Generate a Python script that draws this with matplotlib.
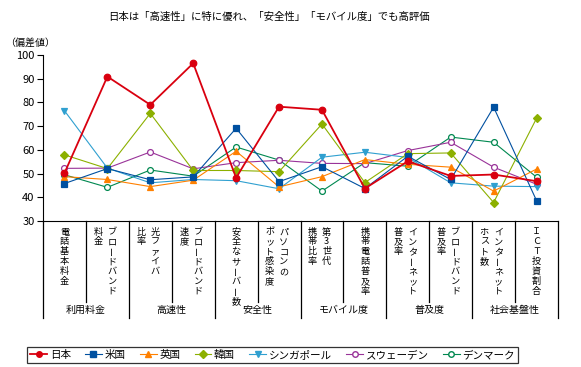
import matplotlib
matplotlib.use('Agg')
import matplotlib.pyplot as plt
from matplotlib.lines import Line2D

plt.rcParams['font.family'] = ['Noto Sans CJK JP', 'DejaVu Sans']

title = '日本は「高速性」に特に優れ、「安全性」「モバイル度」でも高評価'

# category labels, columns written right to left
cat_labels = [['電話基本料金'], ['ブロードバンド', '料金'], ['光ファイバ', '比率'],
              ['ブロードバンド', '速度'], ['安全なサーバー数'], ['パソコンの', 'ボット感染度'],
              ['第3世代', '携帯比率'], ['携帯電話普及率'], ['インターネット', '普及率'],
              ['ブロードバンド', '普及率'], ['インターネット', 'ホスト数'], ['ＩＣＴ投資割合']]
groups = ['利用料金', '高速性', '安全性', 'モバイル度', '普及度', '社会基盤性']

japan = [50.2, 90.9, 79.0, 96.5, 48.2, 78.2, 76.9, 43.7, 55.2, 49.0, 49.6, 46.8]
usa = [45.8, 52.1, 47.4, 48.6, 69.1, 46.6, 52.9, 43.7, 57.3, 47.5, 78.0, 38.6]
uk = [48.7, 47.5, 44.5, 47.2, 59.4, 44.4, 48.7, 55.9, 53.9, 52.7, 42.6, 51.9]
korea = [57.9, 52.1, 75.4, 51.3, 51.3, 50.8, 70.9, 46.2, 58.4, 58.7, 37.8, 73.3]
singapore = [76.5, 52.3, 46.1, 47.5, 47.0, 43.6, 56.9, 59.0, 56.8, 46.1, 44.7, 44.5]
sweden = [52.2, 52.3, 59.1, 52.0, 54.6, 55.6, 54.3, 54.2, 59.7, 63.2, 52.7, 45.5]
denmark = [49.5, 44.2, 51.5, 48.9, 61.2, 55.7, 42.6, 54.6, 53.1, 65.4, 63.2, 48.5]

names = ['日本', '米国', '英国', '韓国', 'シンガポール', 'スウェーデン', 'デンマーク']
series = [japan, usa, uk, korea, singapore, sweden, denmark]
colors = ['#D9000F', '#0050A0', '#FF8000', '#8CB000', '#30A0D0', '#993399', '#008850']
markers = ['o', 's', '^', 'D', 'v', 'o', 'o']
filled = [True, True, True, True, True, False, False]

W, H = 581, 367
fig = plt.figure(figsize=(W / 100, H / 100), dpi=100)
L, R, T, B = 43, 558, 55, 221
ax = fig.add_axes([L / W, 1 - B / H, (R - L) / W, (B - T) / H])

x = list(range(len(cat_labels)))
order = [6, 5, 4, 3, 2, 1, 0]
for i in order:
    lw = 1.3 if i == 0 else 0.8
    ms = 4.7 if i in (0, 1) else 4.2
    ax.plot(x, series[i], color=colors[i], lw=lw, marker=markers[i], ms=ms,
            mfc=colors[i] if filled[i] else 'white', mec=colors[i], mew=0.9,
            zorder=10 - i, clip_on=False)

ax.set_xlim(-0.5, 11.5)
ax.set_ylim(30, 100)
ax.set_yticks(range(30, 101, 10))
ax.tick_params(axis='y', direction='out', length=4, labelsize=8, pad=2)
ax.set_xticks([])
ax.spines['top'].set_visible(False)
ax.spines['right'].set_visible(False)


def fy(p):
    # pixel row (from top) -> axes fraction
    return (B - p) / (B - T)


tr = ax.get_xaxis_transform()
# separators
for i in range(13):
    bottom = 318 if i % 2 == 0 else 302
    ax.plot([i - 0.5, i - 0.5], [0, fy(bottom)], color='black', lw=0.9,
            transform=tr, clip_on=False)

# vertical category labels
step = 9.9
for i, cols in enumerate(cat_labels):
    n = len(cols)
    offs = [0] if n == 1 else [0.11, -0.22]
    for c, text in enumerate(cols):
        for k, ch in enumerate(text):
            ax.text(i + offs[c], fy(232 + k * step), ch, transform=tr,
                    ha='center', va='center', fontsize=6.6,
                    rotation=90 if ch == 'ー' else 0)

for g, name in enumerate(groups):
    ax.text(2 * g + 0.5, fy(310), name, transform=tr, ha='center', va='center',
            fontsize=7.2)

fig.text(269 / W, 1 - 17 / H, title, ha='center', va='center', fontsize=7.5)
fig.text(5 / W, 1 - 43 / H, '（偏差値）', ha='left', va='center', fontsize=7.2)

handles = [Line2D([], [], color=colors[i], lw=1.3 if i == 0 else 0.8,
                  marker=markers[i], ms=4,
                  mfc=colors[i] if filled[i] else 'white', mec=colors[i])
           for i in range(7)]
leg = fig.legend(handles, names, ncol=7, loc='center left',
                 bbox_to_anchor=(27 / W, 1 - 355 / H), fontsize=7.6,
                 frameon=True, fancybox=False, handlelength=1.6,
                 handletextpad=0.25, columnspacing=1.35, borderpad=0.3,
                 borderaxespad=0)
leg.get_frame().set_edgecolor('black')
leg.get_frame().set_linewidth(0.9)

fig.savefig('out.png', dpi=100)
